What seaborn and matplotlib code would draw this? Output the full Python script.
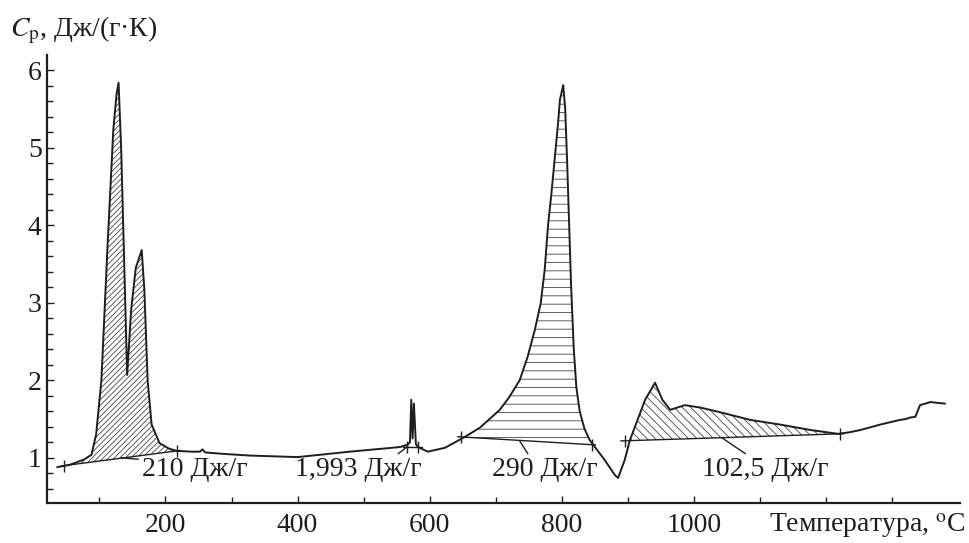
import numpy as np
import pandas as pd
import matplotlib
matplotlib.use('Agg')
import matplotlib.pyplot as plt
import seaborn as sns

# кривая теплоемкости
temp = [36, 55, 77, 88, 95, 103, 112, 121, 126, 129, 133, 139, 142, 148, 155, 164,
        168, 173, 179, 191, 205, 217, 240, 252, 256, 260, 290, 327, 400, 479, 530,
        555, 566, 570, 572, 574, 576, 579, 582, 597, 623, 653, 676, 706, 720, 736,
        748, 759, 768, 774, 779, 784, 789, 794, 797, 802, 805, 808, 811, 814, 818,
        822, 827, 834, 842, 865, 880, 885, 895, 903, 926, 941, 952, 964, 986, 1009,
        1039, 1085, 1130, 1176, 1218, 1235, 1252, 1265, 1282, 1297, 1312, 1320,
        1327, 1335, 1342, 1358, 1368, 1380]
cp = [0.88, 0.91, 0.98, 1.04, 1.30, 2.00, 3.68, 5.23, 5.70, 5.84, 4.97, 3.04,
      2.07, 2.91, 3.45, 3.68, 3.17, 2.00, 1.43, 1.19, 1.12, 1.09, 1.08, 1.08,
      1.11, 1.07, 1.05, 1.03, 1.01, 1.08, 1.12, 1.14, 1.17, 1.20, 1.75, 1.25,
      1.70, 1.18, 1.14, 1.08, 1.13, 1.27, 1.39, 1.62, 1.78, 2.00, 2.30, 2.65,
      3.00, 3.43, 4.00, 4.40, 4.85, 5.30, 5.62, 5.81, 5.50, 4.80, 4.00, 3.20,
      2.40, 1.90, 1.60, 1.38, 1.23, 0.97, 0.78, 0.74, 0.97, 1.23, 1.75, 1.97,
      1.75, 1.62, 1.68, 1.65, 1.59, 1.49, 1.43, 1.36, 1.31, 1.33, 1.36, 1.39,
      1.43, 1.46, 1.49, 1.50, 1.52, 1.53, 1.68, 1.72, 1.71, 1.70]

# базовые линии пиков: (T1, Cp1, T2, Cp2)
base_t1 = [47, 566, 648, 895]
base_c1 = [0.90, 1.14, 1.27, 1.22]
base_t2 = [217, 582, 845, 1221]
base_c2 = [1.09, 1.14, 1.17, 1.31]
hatches = ['//////', None, '--', r'\\\\']

# подписи площадей
labels = ['210 Дж/г', '1,993 Дж/г', '290 Дж/г', '102,5 Дж/г']
label_t = [244, 492, 774, 1108]
label_c = [0.85, 0.85, 0.85, 0.85]
lead_t = [133, 567, 736, 1042]
lead_c = [1.00, 1.15, 1.22, 1.26]
lead_rel = [(0.0, 0.9), (0.78, 1.0), (0.36, 1.0), (0.38, 1.0)]

df = pd.DataFrame({'T': temp, 'Cp': cp})

sns.set_style('ticks')
plt.rcParams['font.family'] = ['Liberation Serif', 'DejaVu Serif']
plt.rcParams['mathtext.fontset'] = 'stix'
plt.rcParams['hatch.linewidth'] = 0.6

fig = plt.figure(figsize=(9.7, 5.43), dpi=100)
ax = fig.add_axes([0.048, 0.074, 0.942, 0.825])
ink = '#1e1e1e'

# штриховка площадей под пиками
for t1, c1, t2, c2, h in zip(base_t1, base_c1, base_t2, base_c2, hatches):
    xs = np.linspace(t1, t2, 300)
    ys = np.interp(xs, temp, cp)
    bl = np.interp(xs, [t1, t2], [c1, c2])
    if h:
        ax.fill_between(xs, bl, ys, where=ys >= bl, facecolor='none',
                        edgecolor='#444444', hatch=h, linewidth=0)
    k = (c2 - c1) / (t2 - t1)
    ax.plot([t1 - 6, t2 + 6], [c1 - k * 6, c2 + k * 6], color=ink, lw=1.0)
    ax.plot([t1, t2], [c1, c2], ls='none', marker='|', ms=9, mew=1.0, color=ink)

sns.lineplot(data=df, x='T', y='Cp', ax=ax, color=ink, lw=1.4, sort=False)

for txt, tx, ty, lx, ly, rp in zip(labels, label_t, label_c, lead_t, lead_c, lead_rel):
    ax.annotate(txt, xy=(lx, ly), xytext=(tx, ty), ha='center', va='center',
                fontsize=20, color=ink,
                arrowprops=dict(arrowstyle='-', lw=1.0, color=ink, relpos=rp,
                                shrinkA=0, shrinkB=0))

ax.set_xlim(20, 1403)
ax.set_ylim(0.42, 6.2)
ax.set_xticks([200, 400, 600, 800, 1000])
ax.set_xticks(np.arange(100, 1400, 100), minor=True)
ax.set_yticks([1, 2, 3, 4, 5, 6])
ax.set_yticks(np.arange(0.6, 6.2, 0.2), minor=True)
ax.tick_params(which='both', direction='in', colors=ink, labelsize=20, width=1.0)
ax.tick_params(which='major', length=5)
ax.tick_params(which='minor', length=4)
ax.tick_params(axis='x', pad=7)
ax.set_xlabel('')
ax.set_ylabel('')
sns.despine(ax=ax)
for s in ['left', 'bottom']:
    ax.spines[s].set_linewidth(1.6)
    ax.spines[s].set_color(ink)

fig.text(0.01, 0.945, '$C_{\\mathrm{p}}$, Дж/(г·К)', fontsize=20, color=ink,
         ha='left', va='center')
fig.text(0.995, 0.032, 'Температура, $^{\\mathrm{o}}$C', fontsize=20, color=ink,
         ha='right', va='center')

fig.savefig('out.png', dpi=100, facecolor='white')
